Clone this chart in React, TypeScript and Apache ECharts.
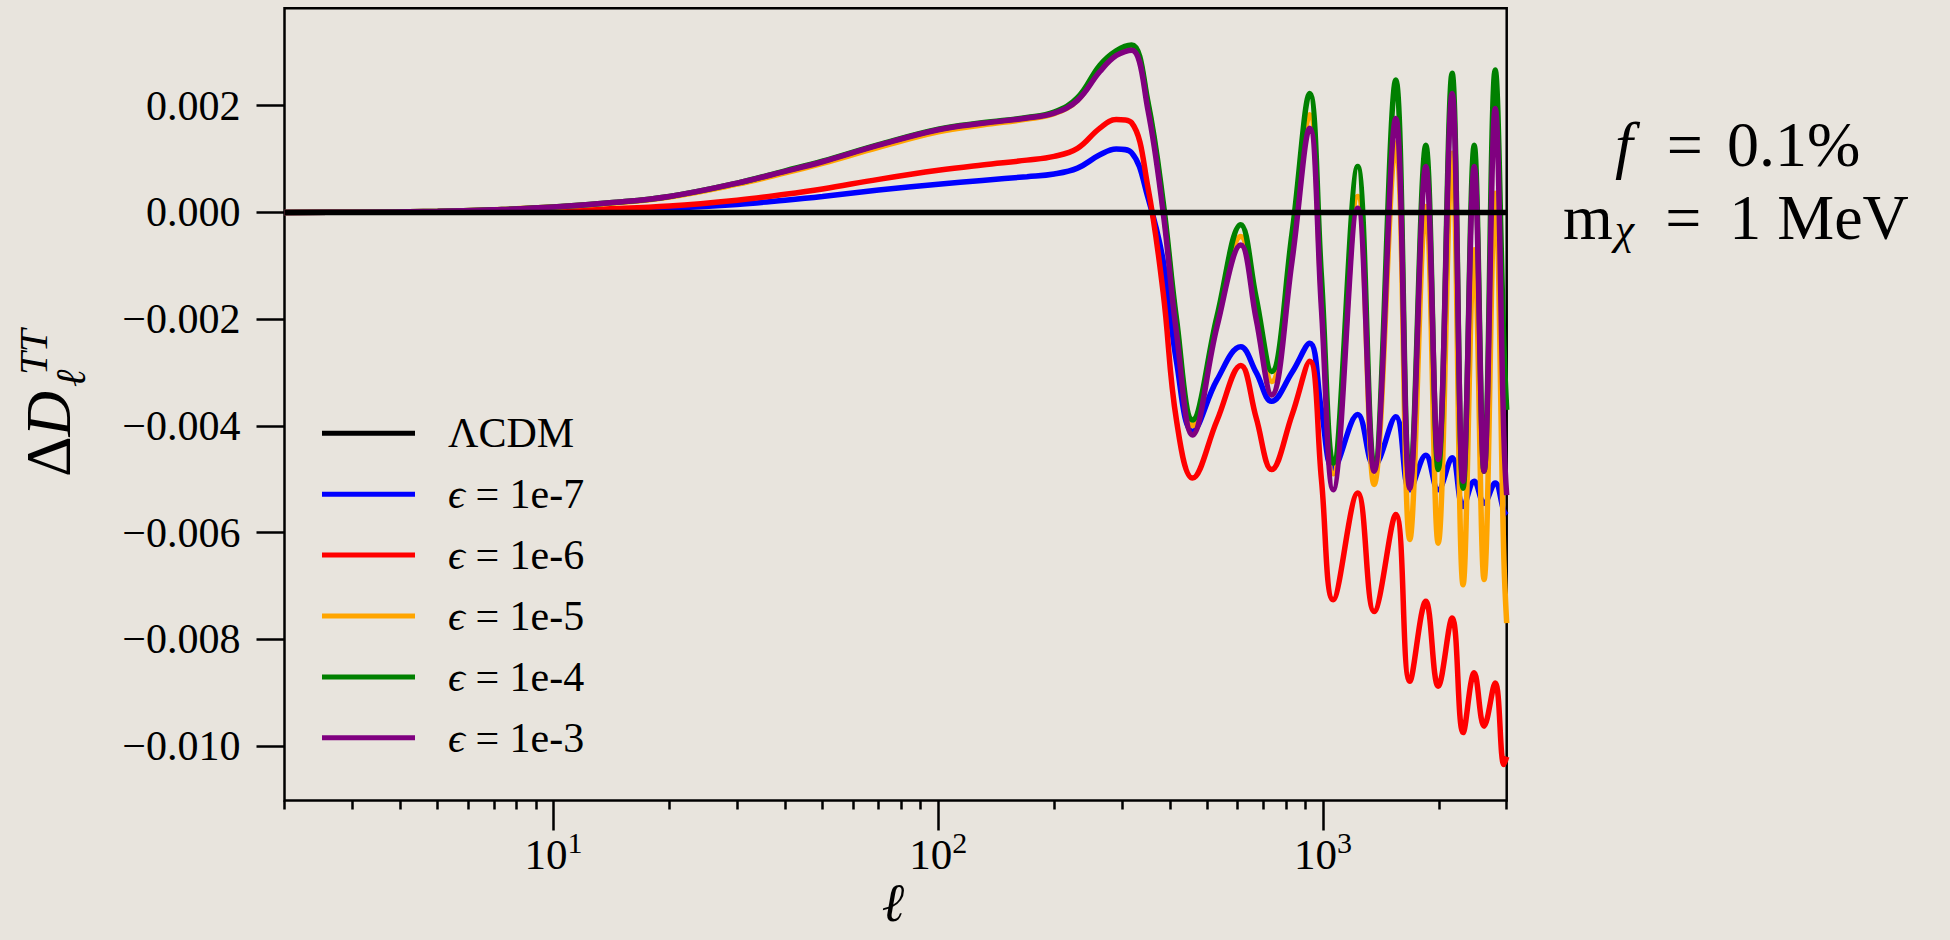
import React, { useEffect, useRef } from "react";
import * as echarts from "echarts";

const SERIF = '"Liberation Serif", "DejaVu Serif", serif';
const BG = "#e8e4dd";

// multipole grid shared by all epsilon curves
const ELL = [
  2, 3, 5, 7, 10, 14, 20, 30, 40, 50, 70, 100, 130, 170, 200, 230, 263, 290, 318, 350,
  384, 416, 458, 530, 611, 670, 735, 830, 923, 990, 1062, 1230, 1357, 1545, 1680, 1849,
  1991, 2164, 2311, 2470, 2620, 2800, 2950, 3000,
];

const LCDM_ELL = [2, 3000];
const LCDM = [0, 0];

// eps = 1e-7 (blue)
const EPS_1E7 = [
  0, 0.000002, 0.000005, 0.00001, 0.00003, 0.00005, 0.00008, 0.00015, 0.00023, 0.0003,
  0.00042, 0.00053, 0.0006, 0.00067, 0.00072, 0.00083, 0.00108, 0.00119, 0.00112, 0.0003,
  -0.0009, -0.0028, -0.0041, -0.00314, -0.00252, -0.003, -0.00354, -0.003, -0.00245, -0.0037,
  -0.0048, -0.00379, -0.00475, -0.00383, -0.0052, -0.00455, -0.0052, -0.0046, -0.00551, -0.00504,
  -0.00545, -0.00507, -0.0056, -0.00567,
];

// eps = 1e-6 (red)
const EPS_1E6 = [
  0, 0.000002, 0.00001, 0.00002, 0.00004, 0.00007, 0.00012, 0.00023, 0.00034, 0.00044,
  0.00062, 0.00079, 0.00089, 0.00098, 0.00105, 0.0012, 0.00158, 0.00174, 0.00168, 0.0005,
  -0.0015, -0.0039, -0.00498, -0.0039, -0.00287, -0.00385, -0.00482, -0.0038, -0.00279, -0.005,
  -0.00726, -0.00526, -0.00748, -0.00566, -0.00879, -0.00729, -0.00888, -0.0076, -0.00975, -0.00863,
  -0.00963, -0.00882, -0.01035, -0.0102,
];

// eps = 1e-5 (orange)
const EPS_1E5 = [
  0, 0.000005, 0.00002, 0.00005, 0.0001, 0.00017, 0.00029, 0.00053, 0.00074, 0.00092,
  0.00122, 0.00151, 0.00164, 0.00175, 0.00185, 0.0021, 0.0027, 0.00298, 0.00308, 0.00205,
  0.0001, -0.0021, -0.004, -0.00205, -0.00045, -0.0018, -0.00317, -0.0007, 0.00183, -0.0016,
  -0.0049, 0.0003, -0.0051, 0.0013, -0.00613, 0.00011, -0.0062, 0.00111, -0.00698, -0.0007,
  -0.00688, 0.00036, -0.0065, -0.0077,
];

// eps = 1e-4 (green)
const EPS_1E4 = [
  0, 0.000005, 0.00002, 0.00005, 0.0001, 0.00018, 0.0003, 0.00055, 0.00078, 0.00096,
  0.00127, 0.00156, 0.00168, 0.00178, 0.00188, 0.00215, 0.00276, 0.00303, 0.00314, 0.0021,
  0.0002, -0.002, -0.00389, -0.00195, -0.00023, -0.0016, -0.00298, -0.0004, 0.00223, -0.0012,
  -0.0047, 0.00086, -0.00476, 0.00248, -0.00507, 0.00126, -0.00482, 0.00261, -0.00517, 0.00126,
  -0.00485, 0.00267, -0.0025, -0.0037,
];

// eps = 1e-3 (purple)
const EPS_1E3 = [
  0, 0.000005, 0.00002, 0.00005, 0.0001, 0.00018, 0.0003, 0.00055, 0.00077, 0.00095,
  0.00126, 0.00155, 0.00167, 0.00177, 0.00186, 0.0021, 0.00264, 0.00294, 0.00304, 0.00195,
  0, -0.00226, -0.00417, -0.00214, -0.00061, -0.002, -0.00342, -0.00092, 0.00158, -0.0018,
  -0.0052, 0.00008, -0.00485, 0.00176, -0.00517, 0.00086, -0.00463, 0.00223, -0.00504, 0.00086,
  -0.00485, 0.00195, -0.0042, -0.0053,
];

const SERIES_NAMES = ["ΛCDM", "ϵ = 1e-7", "ϵ = 1e-6", "ϵ = 1e-5", "ϵ = 1e-4", "ϵ = 1e-3"];
const SERIES_COLORS = ["#000000", "#0000ff", "#ff0000", "#ffa500", "#008000", "#800080"];

const Y_TICKS = [-0.01, -0.008, -0.006, -0.004, -0.002, 0, 0.002];
const X_MAJOR = [10, 100, 1000];
const X_MINOR = [
  2, 3, 4, 5, 6, 7, 8, 9, 20, 30, 40, 50, 60, 70, 80, 90, 200, 300, 400, 500, 600, 700, 800,
  900, 2000, 3000,
];
const X_MIN = 2;
const X_MAX = 3000;
const Y_MIN = -0.011023;
const Y_MAX = 0.003826;

function buildOption() {
  const eps = [EPS_1E7, EPS_1E6, EPS_1E5, EPS_1E4, EPS_1E3];
  const epsSeries = eps.map((vals, i) => ({
    name: SERIES_NAMES[i + 1],
    type: "line",
    xAxisIndex: 0,
    yAxisIndex: 0,
    data: ELL.map((l, j) => [l, vals[j]]),
    showSymbol: false,
    symbol: "none",
    smooth: 0.4,
    color: SERIES_COLORS[i + 1],
    lineStyle: { color: SERIES_COLORS[i + 1], width: 5.5 },
    itemStyle: { color: SERIES_COLORS[i + 1] },
    silent: true,
    emphasis: { disabled: true },
    z: 2,
  }));
  const lcdmSeries = {
    name: SERIES_NAMES[0],
    type: "line",
    xAxisIndex: 0,
    yAxisIndex: 0,
    data: LCDM_ELL.map((l, j) => [l, LCDM[j]]),
    showSymbol: false,
    symbol: "none",
    color: SERIES_COLORS[0],
    lineStyle: { color: SERIES_COLORS[0], width: 5.5 },
    itemStyle: { color: SERIES_COLORS[0] },
    silent: true,
    emphasis: { disabled: true },
    z: 3,
  };

  const tickLine = { color: "#000", width: 2.5 };

  return {
    animation: false,
    backgroundColor: BG,
    grid: {
      left: 284.5,
      right: 443.3,
      top: 8.3,
      bottom: 139.5,
      show: true,
      borderColor: "#000",
      borderWidth: 2.5,
      backgroundColor: "transparent",
      containLabel: false,
      outerBoundsMode: "none",
    },
    xAxis: [
      {
        type: "log",
        logBase: 10,
        min: X_MIN,
        max: X_MAX,
        position: "bottom",
        axisLine: { show: false, onZero: false },
        splitLine: { show: false },
        axisTick: { show: true, customValues: X_MAJOR, length: 30, lineStyle: tickLine },
        axisLabel: {
          show: true,
          customValues: X_MAJOR,
          margin: 32,
          color: "#000",
          formatter: (v: number) => `{b|10}{s|${Math.round(Math.log10(v))}}`,
          rich: {
            b: { fontFamily: SERIF, fontSize: 43, lineHeight: 44, color: "#000" },
            s: {
              fontFamily: SERIF,
              fontSize: 30,
              lineHeight: 30,
              padding: [0, 0, 24, 0],
              color: "#000",
            },
          },
        },
      },
      {
        type: "log",
        logBase: 10,
        min: X_MIN,
        max: X_MAX,
        position: "bottom",
        axisLine: { show: false, onZero: false },
        splitLine: { show: false },
        axisLabel: { show: false },
        axisTick: { show: true, customValues: X_MINOR, length: 9, lineStyle: tickLine },
      },
    ],
    yAxis: {
      type: "value",
      min: Y_MIN,
      max: Y_MAX,
      axisLine: { show: false, onZero: false },
      splitLine: { show: false },
      axisTick: { show: true, customValues: Y_TICKS, length: 28, lineStyle: tickLine },
      axisLabel: {
        customValues: Y_TICKS,
        margin: 44,
        fontFamily: SERIF,
        fontSize: 42,
        color: "#000",
        formatter: (v: number) => (v < -1e-12 ? "\u2212" : "") + Math.abs(v).toFixed(3),
      },
    },
    legend: {
      data: SERIES_NAMES,
      orient: "vertical",
      left: 322,
      top: 412.3,
      padding: 0,
      itemGap: 18.9,
      itemWidth: 93,
      itemHeight: 5,
      icon: "rect",
      selectedMode: false,
      formatter: (name: string) =>
        name.startsWith("ϵ") ? `{e|ϵ}{t|${name.slice(1)}}` : name,
      textStyle: {
        fontFamily: SERIF,
        fontSize: 42,
        lineHeight: 42,
        color: "#000",
        padding: [0, 0, 0, 28],
        rich: {
          e: { fontFamily: SERIF, fontSize: 42, lineHeight: 42, fontStyle: "italic", color: "#000" },
          t: { fontFamily: SERIF, fontSize: 42, lineHeight: 42, color: "#000" },
        },
      },
    },
    graphic: [
      {
        type: "group",
        x: 49,
        y: 477,
        rotation: Math.PI / 2,
        silent: true,
        children: [
          {
            type: "text",
            x: 0,
            y: 0,
            style: {
              text: "{u|Δ}{i|D}",
              align: "left",
              verticalAlign: "middle",
              fill: "#000",
              rich: {
                u: { fontFamily: SERIF, fontSize: 63, color: "#000" },
                i: { fontFamily: SERIF, fontSize: 63, fontStyle: "italic", color: "#000" },
              },
            },
          },
          {
            type: "text",
            x: 102,
            y: -16,
            style: {
              text: "TT",
              fontFamily: SERIF,
              fontSize: 41,
              fontStyle: "italic",
              align: "left",
              verticalAlign: "middle",
              fill: "#000",
            },
          },
          {
            type: "text",
            x: 90,
            y: 22,
            style: {
              text: "ℓ",
              fontFamily: SERIF,
              fontSize: 42,
              fontStyle: "italic",
              align: "left",
              verticalAlign: "middle",
              fill: "#000",
            },
          },
        ],
      },
      {
        type: "text",
        x: 893,
        y: 903,
        silent: true,
        style: {
          text: "ℓ",
          fontFamily: SERIF,
          fontSize: 54,
          fontStyle: "italic",
          align: "center",
          verticalAlign: "middle",
          fill: "#000",
        },
      },
      {
        type: "text",
        x: 1615,
        y: 144,
        silent: true,
        style: {
          text: "{fi|f}{eq|=}{n|0.1%}",
          align: "left",
          verticalAlign: "middle",
          fill: "#000",
          rich: {
            fi: { fontFamily: SERIF, fontSize: 64, fontStyle: "italic", color: "#000" },
            eq: { fontFamily: SERIF, fontSize: 64, padding: [0, 24, 0, 34], color: "#000" },
            n: { fontFamily: SERIF, fontSize: 64, color: "#000" },
          },
        },
      },
      {
        type: "text",
        x: 1563,
        y: 217.5,
        silent: true,
        style: {
          text: "{n|m}{sub|χ}{eq|=}{n|1 MeV}",
          align: "left",
          verticalAlign: "middle",
          fill: "#000",
          rich: {
            n: { fontFamily: SERIF, fontSize: 64, color: "#000" },
            sub: {
              fontFamily: SERIF,
              fontSize: 44,
              fontStyle: "italic",
              padding: [24, 0, 0, 2],
              color: "#000",
            },
            eq: { fontFamily: SERIF, fontSize: 64, padding: [0, 28, 0, 31], color: "#000" },
          },
        },
      },
    ],
    series: [...epsSeries, lcdmSeries],
  };
}

export default function App() {
  const ref = useRef<HTMLDivElement>(null);
  useEffect(() => {
    if (!ref.current) return;
    const chart = echarts.init(ref.current, null, { renderer: "svg" });
    chart.setOption(buildOption() as any);
    return () => chart.dispose();
  }, []);
  return (
    <div
      ref={ref}
      style={{ position: "fixed", left: 0, top: 0, width: 1950, height: 940, background: BG }}
    />
  );
}
